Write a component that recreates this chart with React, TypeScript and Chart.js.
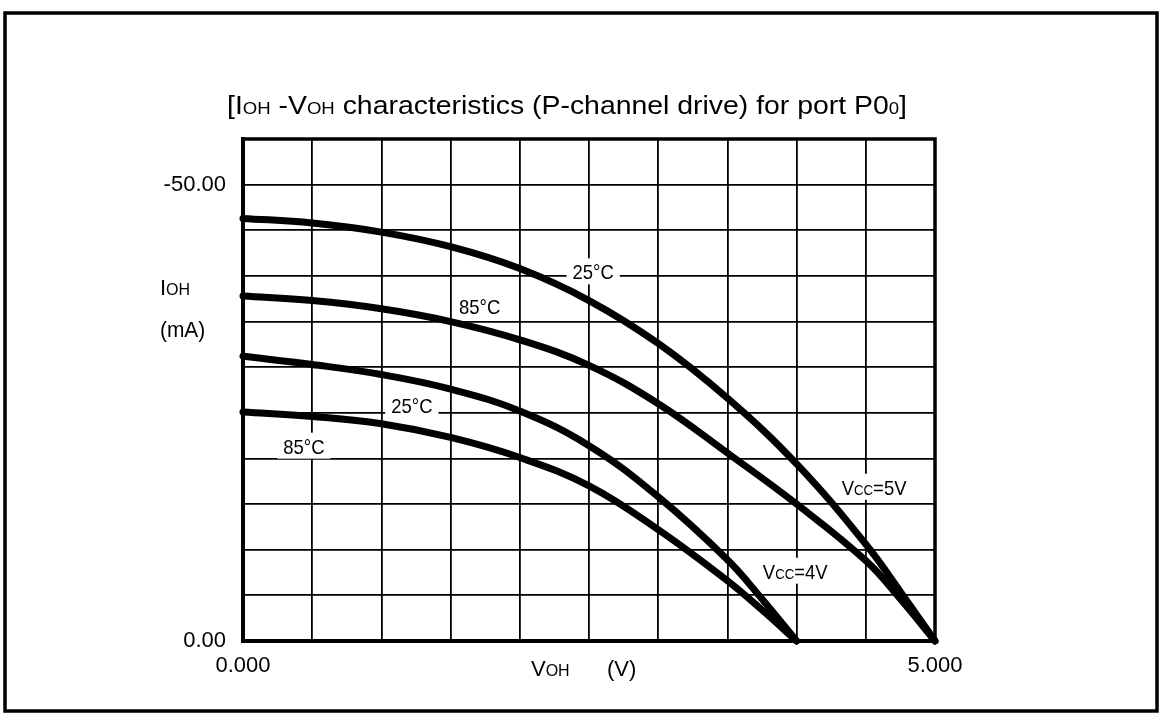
import React, { useEffect, useRef } from 'react';
import { Chart, registerables } from 'chart.js';

Chart.register(...registerables);

// ---- data (V_OH in volts, I_OH in mA) ----
const vcc5Voltages = [0, 0.5, 1.0, 1.5, 2.0, 2.5, 3.0, 3.5, 4.0, 4.5, 4.75, 5.0];
const vcc5At25C = [-46.3, -45.8, -44.8, -43.2, -40.8, -37.3, -32.6, -26.6, -19.4, -10.6, -5.4, 0];
const vcc5At85C = [-37.8, -37.3, -36.4, -35.0, -33.0, -30.2, -26.0, -20.6, -15.0, -8.8, -4.6, 0];

const vcc4Voltages = [0, 0.5, 1.0, 1.5, 2.0, 2.5, 3.0, 3.5, 3.75, 4.0];
const vcc4At25C = [-31.2, -30.3, -29.2, -27.6, -25.2, -21.4, -15.8, -8.9, -4.6, 0];
const vcc4At85C = [-25.1, -24.6, -23.8, -22.3, -20.1, -17.0, -12.2, -6.6, -3.4, 0];

const xTickValues = [0, 5];
const xTickTexts = ['0.000', '5.000'];
const yTickValues = [0, -50];
const yTickTexts = ['0.00', '-50.00'];

// curve annotations, anchored in data units (V, mA)
const labelTexts = ['25°C', '85°C', '25°C', '85°C', 'Vcc=5V', 'Vcc=4V'];
const labelVolts = [2.53, 1.71, 1.22, 0.44, 4.56, 3.99];
const labelAmps = [-40.5, -36.7, -25.9, -21.4, -16.9, -7.7];

const FONT = '"Liberation Sans", Arial, Helvetica, sans-serif';

type Part = [string, number];

function measureParts(ctx: CanvasRenderingContext2D, parts: Part[]) {
  let w = 0;
  for (const [t, s] of parts) {
    ctx.font = `${s}px ${FONT}`;
    w += ctx.measureText(t).width;
  }
  return w;
}

function drawParts(
  ctx: CanvasRenderingContext2D,
  parts: Part[],
  x: number,
  y: number,
  align: 'left' | 'center' | 'right',
  scaleX = 1
) {
  const w = measureParts(ctx, parts) * scaleX;
  let sx = x;
  if (align === 'center') sx = x - w / 2;
  if (align === 'right') sx = x - w;
  ctx.save();
  ctx.translate(sx, y);
  ctx.scale(scaleX, 1);
  ctx.textBaseline = 'alphabetic';
  ctx.textAlign = 'left';
  ctx.fillStyle = '#000';
  let cx = 0;
  for (const [t, s] of parts) {
    ctx.font = `${s}px ${FONT}`;
    ctx.fillText(t, cx, 0);
    cx += ctx.measureText(t).width;
  }
  ctx.restore();
  return w;
}

const LABEL_SCALE = 0.88;

function labelParts(text: string): Part[] {
  if (text.startsWith('Vcc')) {
    return [['V', 21], ['CC', 15], [text.slice(3), 21]];
  }
  return [[text, 21]];
}

const decorPlugin = {
  id: 'decor',
  beforeDraw(chart: any) {
    const ctx: CanvasRenderingContext2D = chart.ctx;
    ctx.save();
    ctx.fillStyle = '#fff';
    ctx.fillRect(0, 0, chart.width, chart.height);
    // outer frame
    ctx.strokeStyle = '#000';
    ctx.lineWidth = 3.5;
    ctx.strokeRect(5, 13, 1152, 698);
    // title
    const titleParts: Part[] = [
      ['[I', 26],
      ['OH', 17],
      [' -V', 26],
      ['OH', 17],
      [' characteristics (P-channel drive) for port P0', 26],
      ['0', 17],
      [']', 26],
    ];
    const tw = measureParts(ctx, titleParts);
    drawParts(ctx, titleParts, 227, 114, 'left', 680 / tw);
    // y axis caption
    drawParts(ctx, [['I', 22], ['OH', 16]], 160, 295, 'left');
    drawParts(ctx, [['(mA)', 22]], 160, 337, 'left', 0.95);
    // x axis caption
    drawParts(ctx, [['V', 22], ['OH', 16]], 531, 676, 'left');
    drawParts(ctx, [['(V)', 22]], 607, 676, 'left');
    ctx.restore();
  },
  beforeDatasetsDraw(chart: any) {
    const ctx: CanvasRenderingContext2D = chart.ctx;
    const xs = chart.scales.x;
    const ys = chart.scales.y;
    ctx.save();
    ctx.fillStyle = '#fff';
    labelTexts.forEach((t, k) => {
      const px = xs.getPixelForValue(labelVolts[k]);
      const py = ys.getPixelForValue(labelAmps[k]);
      const w = measureParts(ctx, labelParts(t)) * LABEL_SCALE;
      ctx.fillRect(px - w / 2 - 6, py - 13, w + 12, 26);
    });
    ctx.restore();
  },
  afterDatasetsDraw(chart: any) {
    const ctx: CanvasRenderingContext2D = chart.ctx;
    const xs = chart.scales.x;
    const ys = chart.scales.y;
    const a = chart.chartArea;
    ctx.save();
    labelTexts.forEach((t, k) => {
      const px = xs.getPixelForValue(labelVolts[k]);
      const py = ys.getPixelForValue(labelAmps[k]);
      drawParts(ctx, labelParts(t), px, py + 8, 'center', LABEL_SCALE);
    });
    // top and right border of plot
    ctx.strokeStyle = '#000';
    ctx.lineWidth = 3.5;
    ctx.beginPath();
    ctx.moveTo(a.left, a.top);
    ctx.lineTo(a.right, a.top);
    ctx.lineTo(a.right, a.bottom);
    ctx.stroke();
    ctx.restore();
  },
};

function pts(xs: number[], ys: number[]) {
  return xs.map((x, k) => ({ x, y: ys[k] }));
}

export default function App() {
  const ref = useRef<HTMLCanvasElement>(null);
  useEffect(() => {
    document.body.style.margin = '0';
    const lineStyle = {
      borderColor: '#000',
      borderWidth: 7,
      pointRadius: 0,
      fill: false,
      tension: 0.4,
      borderCapStyle: 'round' as const,
      borderJoinStyle: 'round' as const,
      clip: false as any,
    };
    const chart = new Chart(ref.current!, {
      type: 'line',
      data: {
        datasets: [
          { label: 'Vcc=5V 25°C', data: pts(vcc5Voltages, vcc5At25C), ...lineStyle },
          { label: 'Vcc=5V 85°C', data: pts(vcc5Voltages, vcc5At85C), ...lineStyle },
          { label: 'Vcc=4V 25°C', data: pts(vcc4Voltages, vcc4At25C), ...lineStyle },
          { label: 'Vcc=4V 85°C', data: pts(vcc4Voltages, vcc4At85C), ...lineStyle },
        ],
      },
      options: {
        responsive: false,
        animation: false,
        devicePixelRatio: 1,
        layout: { padding: { top: 139, right: 227, bottom: 0, left: 0 } },
        plugins: {
          legend: { display: false },
          tooltip: { enabled: false },
          title: { display: false },
        },
        scales: {
          x: {
            type: 'linear',
            min: 0,
            max: 5,
            afterFit: (s: any) => {
              s.height = 76;
            },
            grid: { color: '#000', lineWidth: 1.8, drawTicks: false },
            border: { display: true, color: '#000', width: 4 },
            ticks: {
              stepSize: 0.5,
              autoSkip: false,
              maxRotation: 0,
              padding: 12,
              color: '#000',
              font: { family: FONT, size: 22 },
              callback: (v: any) => {
                const k = xTickValues.indexOf(Number(v));
                return k >= 0 ? xTickTexts[k] : '';
              },
            },
          },
          y: {
            type: 'linear',
            min: -55,
            max: 0,
            reverse: true,
            afterFit: (s: any) => {
              s.width = 243;
            },
            grid: { color: '#000', lineWidth: 1.8, drawTicks: false },
            border: { display: true, color: '#000', width: 4 },
            ticks: {
              stepSize: 5,
              autoSkip: false,
              padding: 17,
              color: '#000',
              font: { family: FONT, size: 22 },
              callback: (v: any) => {
                const k = yTickValues.indexOf(Number(v));
                return k >= 0 ? yTickTexts[k] : '';
              },
            },
          },
        },
      },
      plugins: [decorPlugin],
    } as any);
    return () => chart.destroy();
  }, []);
  return (
    <div style={{ position: 'absolute', left: 0, top: 0, width: 1162, height: 717, background: '#fff' }}>
      <canvas ref={ref} width={1162} height={717} style={{ width: 1162, height: 717, display: 'block' }} />
    </div>
  );
}
